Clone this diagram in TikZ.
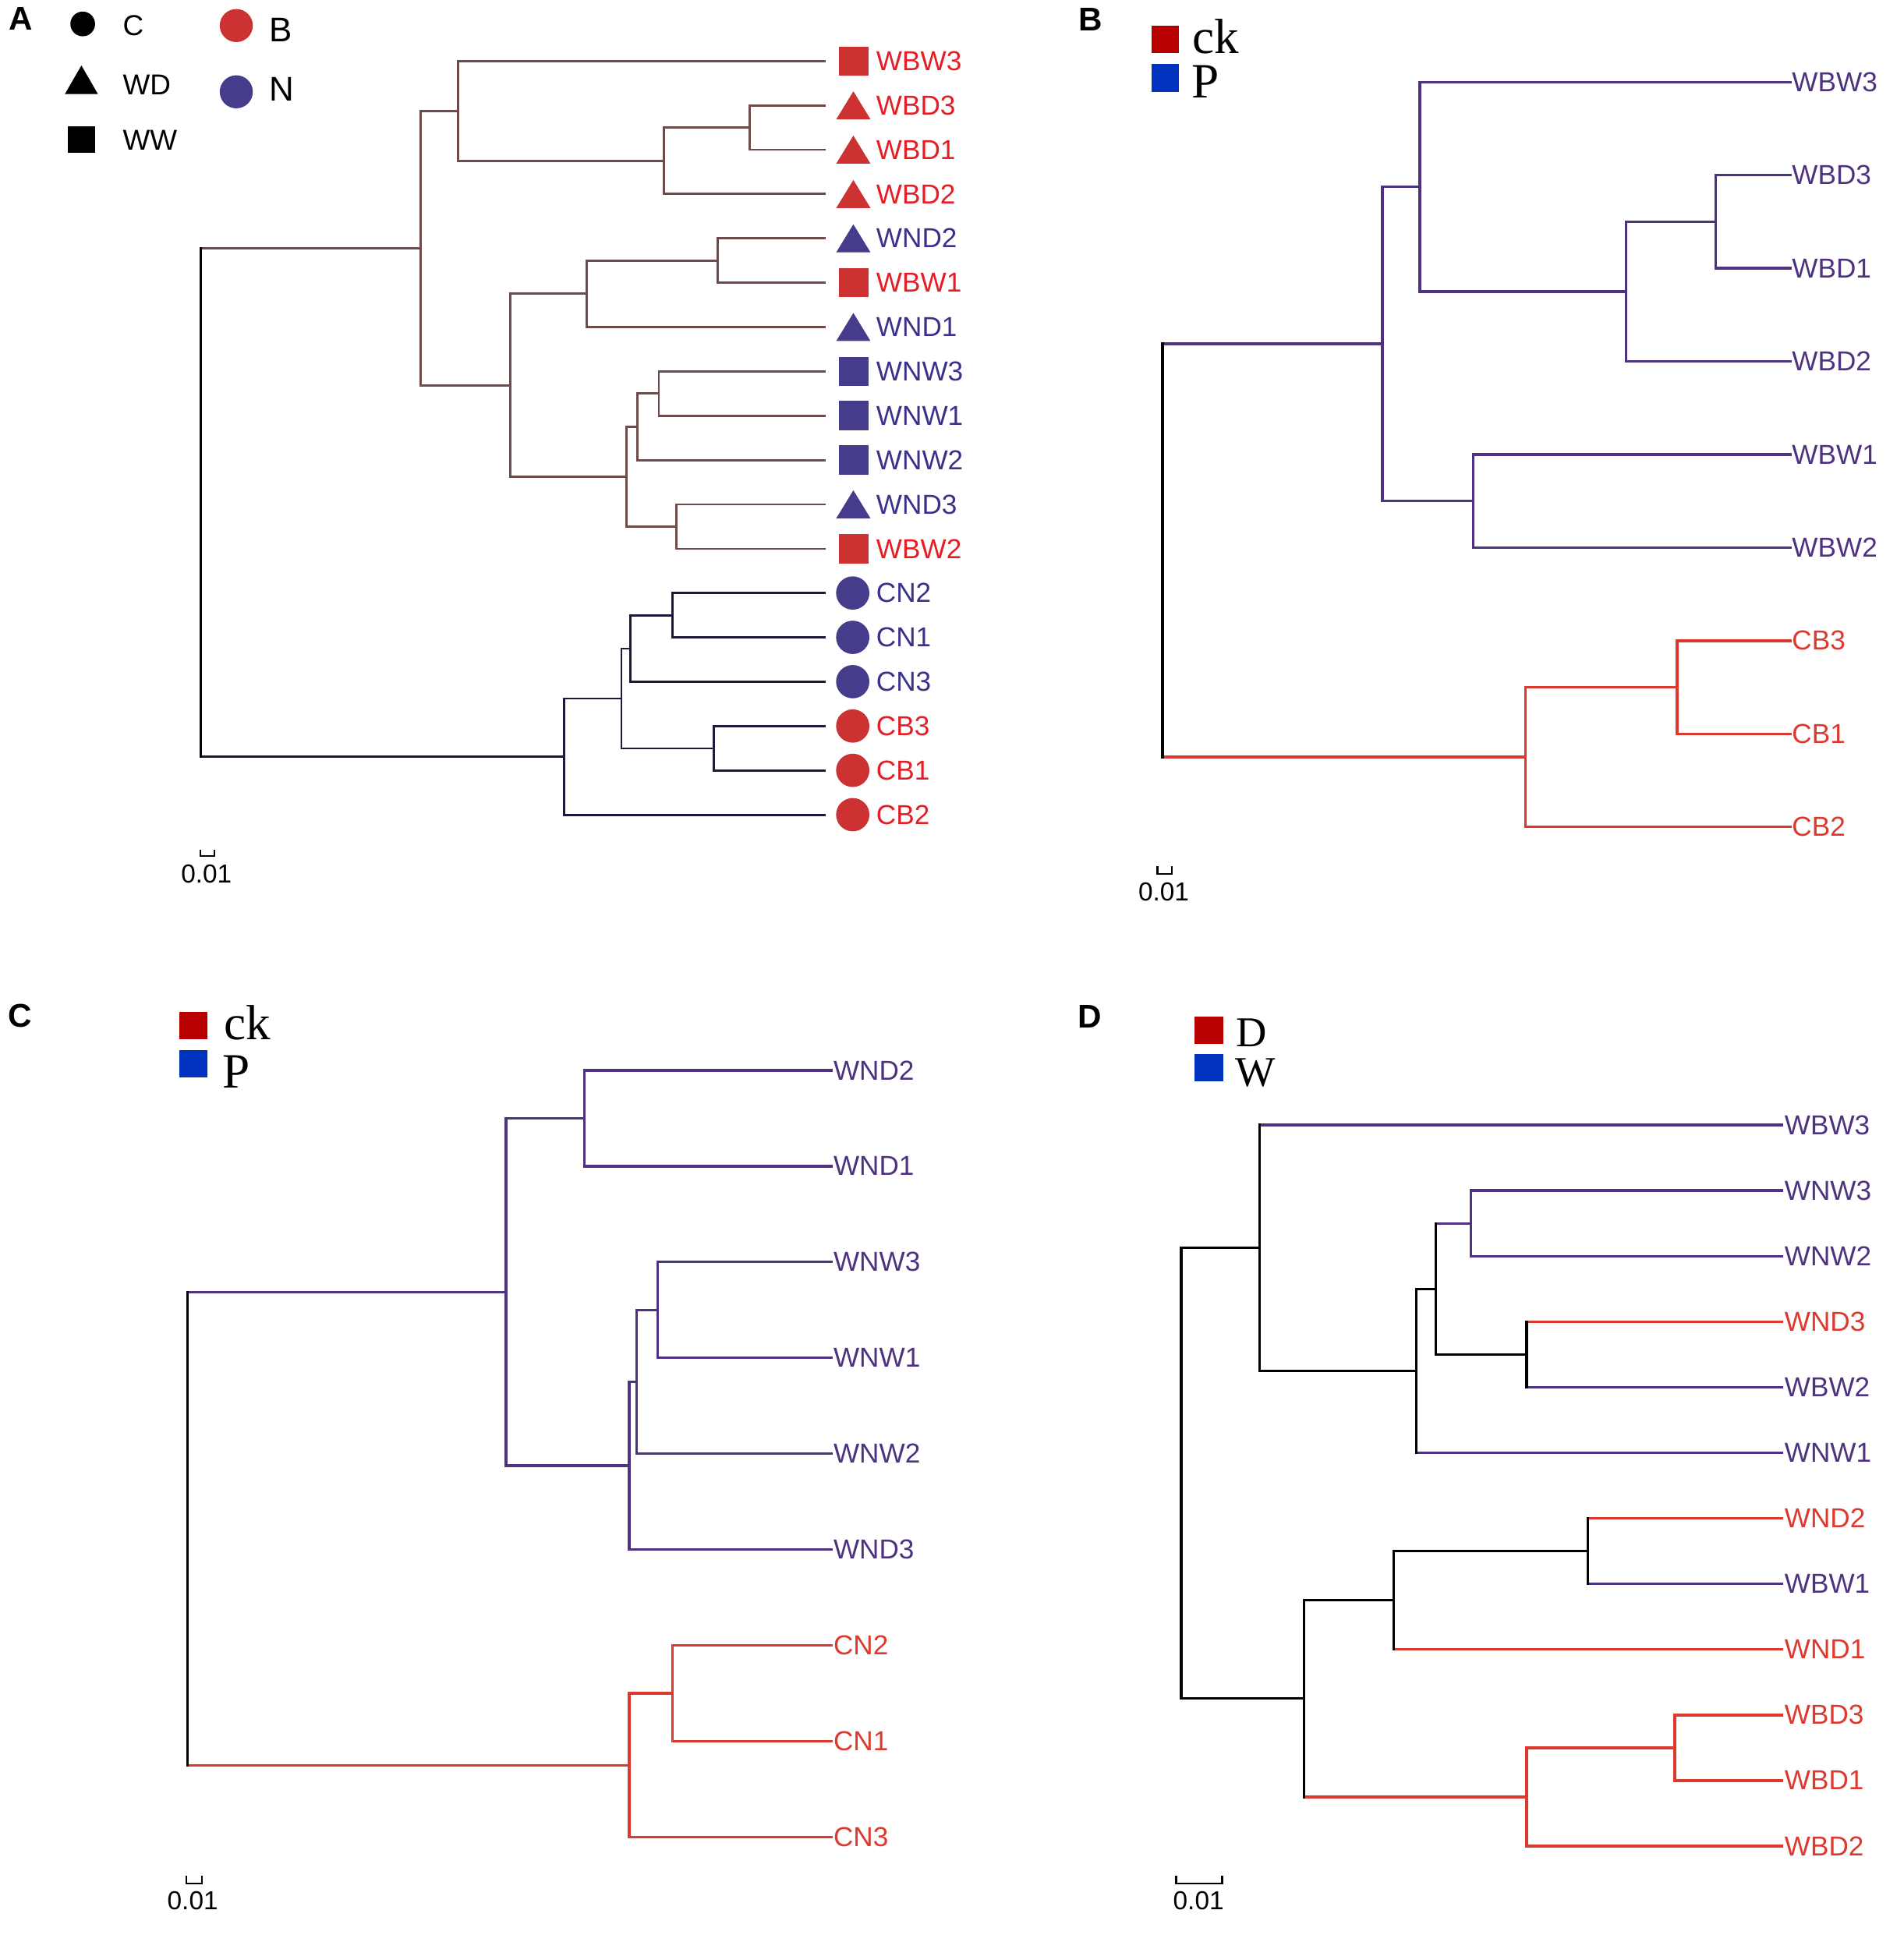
\documentclass[tikz,border=0pt]{standalone}
\usepackage{fontspec}
\setmainfont{Liberation Sans}
\newfontfamily\tmsfont{Liberation Serif}
\definecolor{brn}{RGB}{110,74,74}
\definecolor{nvl}{RGB}{28,26,58}
\definecolor{labR}{RGB}{228,30,36}
\definecolor{labN}{RGB}{58,50,138}
\definecolor{mkR}{RGB}{204,50,50}
\definecolor{mkN}{RGB}{70,60,140}
\definecolor{pur}{RGB}{78,50,128}
\definecolor{pred}{RGB}{220,58,46}
\definecolor{lgR}{RGB}{185,0,0}
\definecolor{lgB}{RGB}{0,50,190}
\tikzset{
  tree/.style={line width=0.95pt, line cap=rect},
  treeA/.style={line width=0.8pt, line cap=rect},
  lab/.style={anchor=west, inner sep=0pt, font=\fontsize{10}{12}\selectfont},
  plet/.style={inner sep=0pt, font=\bfseries\fontsize{12}{14}\selectfont},
  lgA/.style={anchor=west, inner sep=0pt, font=\fontsize{10.5}{12}\selectfont},
  lgAb/.style={anchor=west, inner sep=0pt, font=\fontsize{12.5}{14}\selectfont},
  lgS/.style={anchor=base west, inner sep=0pt, font=\tmsfont\fontsize{18}{20}\selectfont},
  lgSd/.style={anchor=base west, inner sep=0pt, font=\tmsfont\fontsize{15.5}{17}\selectfont},
  sclab/.style={inner sep=0pt, font=\fontsize{9.5}{11}\selectfont},
  scbar/.style={line width=0.6pt}
}
\newcommand\tleaf[6]{\coordinate (#1) at (#2,#3);
  \node[lab,text=#5] (#1t) at (#4,#3) {#6};}
\newcommand\tnd[6]{%
  \draw[tree,#4] (#2 |- #3) -- (#3);
  \draw[tree,#6] (#2 |- #5) -- (#5);
  \draw[tree,#1] (#2 |- #3) -- (#2 |- #5);}
\newcommand\tna[6]{%
  \draw[treeA,#4] (#2 |- #3) -- (#3);
  \draw[treeA,#6] (#2 |- #5) -- (#5);
  \draw[treeA,#1] (#2 |- #3) -- (#2 |- #5);}
\newcommand\msqr[2]{\fill[#1] (684.3,#2) ++(-11.7,-11.7) rectangle ++(23.4,23.4);}
\newcommand\mtri[2]{\fill[#1] (684,#2) ++(-13.75,11.25) -- ++(27.5,0) -- ++(-13.75,-22.5) -- cycle;}
\newcommand\mcir[2]{\fill[#1] (683.5,#2) circle[radius=13.35];}
\begin{document}
\begin{tikzpicture}[x=0.01595cm,y=-0.01595cm]
\useasboundingbox (0cm,0cm) rectangle (24.41cm,-25cm);
\fill[white] (0cm,0cm) rectangle (24.41cm,-25cm);

% ================= Panel A =================
\begin{scope}[scale=1.0035]
\node[plet] (pA) at (17,15.3) {A};
\fill[black] (66.3,19.2) circle[radius=9.9];
\node[lgA] (lgC) at (98,20.5) {C};
\fill[black] (52,75.4) -- (78.5,75.4) -- (65.25,52.5) -- cycle;
\node[lgA] (lgWD) at (98,67.7) {WD};
\fill[black] (54.6,101.5) rectangle (76,122.5);
\node[lgA] (lgWW) at (98,112.5) {WW};
\fill[mkR] (189.4,20.5) circle[radius=13.25];
\node[lgAb] (lgB) at (215.6,24) {B};
\fill[mkN] (189.4,73.6) circle[radius=13.25];
\node[lgAb] (lgN) at (215.6,71.3) {N};

\tleaf{aWBW3}{660.5}{48.9}{702}{labR}{WBW3}
\tleaf{aWBD3}{660.5}{84.44}{702}{labR}{WBD3}
\tleaf{aWBD1}{660.5}{119.98}{702}{labR}{WBD1}
\tleaf{aWBD2}{660.5}{155.52}{702}{labR}{WBD2}
\tleaf{aWND2}{660.5}{191.06}{702}{labN}{WND2}
\tleaf{aWBW1}{660.5}{226.6}{702}{labR}{WBW1}
\tleaf{aWND1}{660.5}{262.14}{702}{labN}{WND1}
\tleaf{aWNW3}{660.5}{297.68}{702}{labN}{WNW3}
\tleaf{aWNW1}{660.5}{333.22}{702}{labN}{WNW1}
\tleaf{aWNW2}{660.5}{368.76}{702}{labN}{WNW2}
\tleaf{aWND3}{660.5}{404.3}{702}{labN}{WND3}
\tleaf{aWBW2}{660.5}{439.84}{702}{labR}{WBW2}
\tleaf{aCN2}{660.5}{475.38}{702}{labN}{CN2}
\tleaf{aCN1}{660.5}{510.92}{702}{labN}{CN1}
\tleaf{aCN3}{660.5}{546.46}{702}{labN}{CN3}
\tleaf{aCB3}{660.5}{582.0}{702}{labR}{CB3}
\tleaf{aCB1}{660.5}{617.54}{702}{labR}{CB1}
\tleaf{aCB2}{660.5}{653.08}{702}{labR}{CB2}

\msqr{mkR}{48.9}
\mtri{mkR}{84.44}
\mtri{mkR}{119.98}
\mtri{mkR}{155.52}
\mtri{mkN}{191.06}
\msqr{mkR}{226.6}
\mtri{mkN}{262.14}
\msqr{mkN}{297.68}
\msqr{mkN}{333.22}
\msqr{mkN}{368.76}
\mtri{mkN}{404.3}
\msqr{mkR}{439.84}
\mcir{mkN}{475.38}
\mcir{mkN}{510.92}
\mcir{mkN}{546.46}
\mcir{mkR}{582.0}
\mcir{mkR}{617.54}
\mcir{mkR}{653.08}

\coordinate (a601) at (601,102.21);
\coordinate (a532) at (532,128.87);
\coordinate (a367) at (367,88.88);
\coordinate (a575) at (575,208.83);
\coordinate (a470) at (470,235.49);
\coordinate (a528) at (528,315.45);
\coordinate (a511) at (511,342.1);
\coordinate (a542) at (542,422.07);
\coordinate (a502) at (502,382.09);
\coordinate (a409) at (409,308.79);
\coordinate (a337) at (337,198.84);
\coordinate (a539) at (539,493.15);
\coordinate (a505) at (505,519.8);
\coordinate (a572) at (572,599.77);
\coordinate (a498) at (498,559.79);
\coordinate (a452) at (452,606.43);
\coordinate (aR) at (161,402.64);

\tna{brn}{a601}{aWBD3}{brn}{aWBD1}{brn}
\tna{brn}{a532}{a601}{brn}{aWBD2}{brn}
\tna{brn}{a367}{aWBW3}{brn}{a532}{brn}
\tna{brn}{a575}{aWND2}{brn}{aWBW1}{brn}
\tna{brn}{a470}{a575}{brn}{aWND1}{brn}
\tna{brn}{a528}{aWNW3}{brn}{aWNW1}{brn}
\tna{brn}{a511}{a528}{brn}{aWNW2}{brn}
\tna{brn}{a542}{aWND3}{brn}{aWBW2}{brn}
\tna{brn}{a502}{a511}{brn}{a542}{brn}
\tna{brn}{a409}{a470}{brn}{a502}{brn}
\tna{brn}{a337}{a367}{brn}{a409}{brn}
\tna{nvl}{a539}{aCN2}{nvl}{aCN1}{nvl}
\tna{nvl}{a505}{a539}{nvl}{aCN3}{nvl}
\tna{nvl}{a572}{aCB3}{nvl}{aCB1}{nvl}
\tna{nvl}{a498}{a505}{nvl}{a572}{nvl}
\tna{nvl}{a452}{a498}{nvl}{aCB2}{nvl}
\tna{black}{aR}{a337}{brn}{a452}{nvl}

\draw[scbar] (160.5,681) -- (160.5,686) -- (172,686) -- (172,681);
\node[sclab] (scA) at (165.5,700.6) {0.01};
\end{scope}

% ================= Panel B =================
\node[plet] (pB) at (877,15.5) {B};
\fill[lgR] (926,21) rectangle (948,42.7);
\fill[lgB] (926,51.7) rectangle (948,73.9);
\node[lgS] (lgBck) at (959,42.7) {ck};
\node[lgS] (lgBP) at (958,78.75) {P};

\tleaf{bWBW3}{1440}{66}{1441}{pur}{WBW3}
\tleaf{bWBD3}{1440}{140.9}{1441}{pur}{WBD3}
\tleaf{bWBD1}{1440}{215.8}{1441}{pur}{WBD1}
\tleaf{bWBD2}{1440}{290.7}{1441}{pur}{WBD2}
\tleaf{bWBW1}{1440}{365.6}{1441}{pur}{WBW1}
\tleaf{bWBW2}{1440}{440.5}{1441}{pur}{WBW2}
\tleaf{bCB3}{1440}{515.4}{1441}{pred}{CB3}
\tleaf{bCB1}{1440}{590.3}{1441}{pred}{CB1}
\tleaf{bCB2}{1440}{665.2}{1441}{pred}{CB2}

\coordinate (b1380) at (1380,178.35);
\coordinate (b1308) at (1308,234.5);
\coordinate (b1142) at (1142,150.25);
\coordinate (b1185) at (1185,403.05);
\coordinate (b1112) at (1112,276.65);
\coordinate (b1349) at (1349,552.85);
\coordinate (b1227) at (1227,609.03);
\coordinate (bR) at (935,442.84);

\tnd{pur}{b1380}{bWBD3}{pur}{bWBD1}{pur}
\tnd{pur}{b1308}{b1380}{pur}{bWBD2}{pur}
\tnd{pur}{b1142}{bWBW3}{pur}{b1308}{pur}
\tnd{pur}{b1185}{bWBW1}{pur}{bWBW2}{pur}
\tnd{pur}{b1112}{b1142}{pur}{b1185}{pur}
\tnd{pred}{b1349}{bCB3}{pred}{bCB1}{pred}
\tnd{pred}{b1227}{b1349}{pred}{bCB2}{pred}
\tnd{black}{bR}{b1112}{pur}{b1227}{pred}

\draw[scbar] (931,697) -- (931,703) -- (942.5,703) -- (942.5,697);
\node[sclab] (scB) at (936,717.5) {0.01};

% ================= Panel C =================
\node[plet] (pC) at (16,817) {C};
\fill[lgR] (144,814) rectangle (167,836);
\fill[lgB] (144,845) rectangle (167,867);
\node[lgS] (lgCck) at (180,836) {ck};
\node[lgS] (lgCP) at (178.5,875.4) {P};

\tleaf{cWND2}{669}{861}{670}{pur}{WND2}
\tleaf{cWND1}{669}{938.1}{670}{pur}{WND1}
\tleaf{cWNW3}{669}{1015.2}{670}{pur}{WNW3}
\tleaf{cWNW1}{669}{1092.3}{670}{pur}{WNW1}
\tleaf{cWNW2}{669}{1169.4}{670}{pur}{WNW2}
\tleaf{cWND3}{669}{1246.5}{670}{pur}{WND3}
\tleaf{cCN2}{669}{1323.6}{670}{pred}{CN2}
\tleaf{cCN1}{669}{1400.7}{670}{pred}{CN1}
\tleaf{cCN3}{669}{1477.8}{670}{pred}{CN3}

\coordinate (c470) at (470,899.55);
\coordinate (c529) at (529,1053.75);
\coordinate (c512) at (512,1111.58);
\coordinate (c506) at (506,1179.04);
\coordinate (c407) at (407,1039.3);
\coordinate (c541) at (541,1362.15);
\coordinate (c506b) at (506,1419.98);
\coordinate (cR) at (151,1229.64);

\tnd{pur}{c470}{cWND2}{pur}{cWND1}{pur}
\tnd{pur}{c529}{cWNW3}{pur}{cWNW1}{pur}
\tnd{pur}{c512}{c529}{pur}{cWNW2}{pur}
\tnd{pur}{c506}{c512}{pur}{cWND3}{pur}
\tnd{pur}{c407}{c470}{pur}{c506}{pur}
\tnd{pred}{c541}{cCN2}{pred}{cCN1}{pred}
\tnd{pred}{c506b}{c541}{pred}{cCN3}{pred}
\tnd{black}{cR}{c407}{pur}{c506b}{pred}

\draw[scbar] (150,1509) -- (150,1515) -- (162.5,1515) -- (162.5,1509);
\node[sclab] (scC) at (155,1529) {0.01};

% ================= Panel D =================
\node[plet] (pD) at (876.5,817.5) {D};
\fill[lgR] (961,818) rectangle (984,840);
\fill[lgB] (961,848) rectangle (984,870);
\node[lgSd] (lgDD) at (994,842) {D};
\node[lgSd] (lgDW) at (993,874) {W};

\tleaf{dWBW3}{1433}{905}{1435}{pur}{WBW3}
\tleaf{dWNW3}{1433}{957.7}{1435}{pur}{WNW3}
\tleaf{dWNW2}{1433}{1010.5}{1435}{pur}{WNW2}
\tleaf{dWND3}{1433}{1063.2}{1435}{pred}{WND3}
\tleaf{dWBW2}{1433}{1115.9}{1435}{pur}{WBW2}
\tleaf{dWNW1}{1433}{1168.6}{1435}{pur}{WNW1}
\tleaf{dWND2}{1433}{1221.4}{1435}{pred}{WND2}
\tleaf{dWBW1}{1433}{1274.1}{1435}{pur}{WBW1}
\tleaf{dWND1}{1433}{1326.8}{1435}{pred}{WND1}
\tleaf{dWBD3}{1433}{1379.6}{1435}{pred}{WBD3}
\tleaf{dWBD1}{1433}{1432.3}{1435}{pred}{WBD1}
\tleaf{dWBD2}{1433}{1485}{1435}{pred}{WBD2}

\coordinate (d1183) at (1183,984.1);
\coordinate (d1228a) at (1228,1089.55);
\coordinate (d1155) at (1155,1036.83);
\coordinate (d1139) at (1139,1102.72);
\coordinate (d1013) at (1013,1003.86);
\coordinate (d1277) at (1277,1247.75);
\coordinate (d1121) at (1121,1287.28);
\coordinate (d1347) at (1347,1405.95);
\coordinate (d1228b) at (1228,1445.48);
\coordinate (d1049) at (1049,1366.38);
\coordinate (dR) at (950,1185.12);

\tnd{pur}{d1183}{dWNW3}{pur}{dWNW2}{pur}
\tnd{black}{d1228a}{dWND3}{pred}{dWBW2}{pur}
\tnd{black}{d1155}{d1183}{pur}{d1228a}{black}
\tnd{black}{d1139}{d1155}{black}{dWNW1}{pur}
\tnd{black}{d1013}{dWBW3}{pur}{d1139}{black}
\tnd{black}{d1277}{dWND2}{pred}{dWBW1}{pur}
\tnd{black}{d1121}{d1277}{black}{dWND1}{pred}
\tnd{pred}{d1347}{dWBD3}{pred}{dWBD1}{pred}
\tnd{pred}{d1228b}{d1347}{pred}{dWBD2}{pred}
\tnd{black}{d1049}{d1121}{black}{d1228b}{pred}
\tnd{black}{dR}{d1013}{black}{d1049}{black}

\draw[scbar] (946,1509) -- (946,1515) -- (983,1515) -- (983,1509);
\node[sclab] (scD) at (964,1529) {0.01};
\end{tikzpicture}
\end{document}
